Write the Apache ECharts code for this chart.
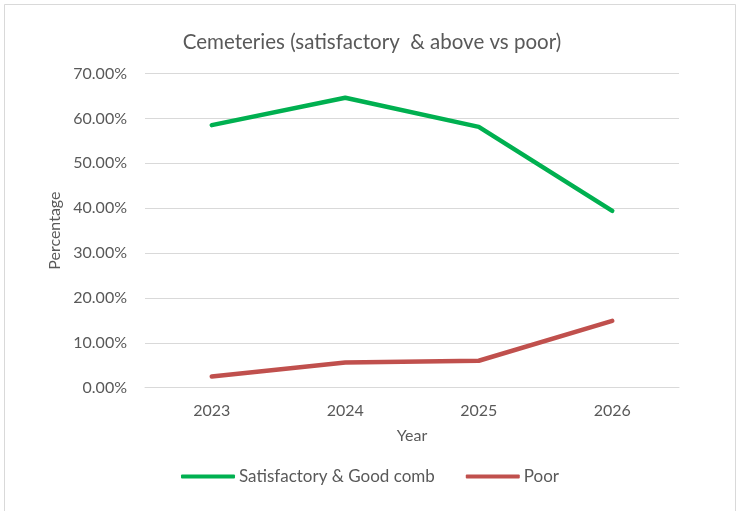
<!DOCTYPE html>
<html>
<head>
<meta charset="utf-8">
<script src="https://cdn.jsdelivr.net/npm/echarts@6/dist/echarts.min.js"></script>
<style>
  html, body { margin: 0; padding: 0; background: #fff; }
  #chart { width: 740px; height: 511px; }
</style>
</head>
<body>
<div id="chart"></div>
<script>
// Years on the category axis
const years = ['2023', '2024', '2025', '2026'];
// Share of cemeteries rated satisfactory or good (percent)
const satisfactoryGood = [58.5, 64.6, 58.1, 39.4];
// Share of cemeteries rated poor (percent)
const poor = [2.5, 5.6, 6.0, 14.9];

const textColor = '#595959';
const fontFamily = 'Lato, "Open Sans", sans-serif';

const chart = echarts.init(document.getElementById('chart'), null, { renderer: 'canvas' });
chart.setOption({
  backgroundColor: '#ffffff',
  animation: false,
  textStyle: { fontFamily: fontFamily, color: textColor },
  graphic: [{
    type: 'rect',
    shape: { x: 4.5, y: 4.5, width: 731, height: 530 },
    style: { fill: 'none', stroke: '#d9d9d9', lineWidth: 1 },
    silent: true
  }],
  title: {
    text: 'Cemeteries (satisfactory  & above vs poor)',
    left: 367,
    textAlign: 'center',
    top: 27,
    textStyle: { fontFamily: fontFamily, fontSize: 20.5, fontWeight: 'normal', color: textColor }
  },
  legend: {
    bottom: 21,
    left: 'center',
    itemWidth: 54,
    itemHeight: 4,
    itemGap: 31,
    icon: 'roundRect',
    textStyle: { fontFamily: fontFamily, fontSize: 17, color: textColor, padding: [0, 0, 0, -1] },
    data: ['Satisfactory & Good comb', 'Poor']
  },
  grid: { left: 145, right: 61, top: 73.5, bottom: 123.3, containLabel: false },
  xAxis: {
    type: 'category',
    data: years,
    boundaryGap: true,
    name: 'Year',
    nameLocation: 'middle',
    nameGap: 40,
    nameTextStyle: { fontFamily: fontFamily, fontSize: 16, color: textColor },
    axisLine: { show: true, lineStyle: { color: '#d9d9d9', width: 1 } },
    axisTick: { show: false },
    axisLabel: { margin: 15, fontSize: 16, color: textColor, fontFamily: fontFamily }
  },
  yAxis: {
    type: 'value',
    min: 0,
    max: 70,
    interval: 10,
    name: 'Percentage',
    nameLocation: 'middle',
    nameGap: 82,
    nameRotate: 90,
    nameTextStyle: { fontFamily: fontFamily, fontSize: 16, color: textColor },
    axisLine: { show: false },
    axisTick: { show: false },
    axisLabel: {
      margin: 18,
      fontSize: 16,
      color: textColor,
      fontFamily: fontFamily,
      formatter: v => v.toFixed(2) + '%'
    },
    splitLine: { lineStyle: { color: '#d9d9d9', width: 1 } }
  },
  series: [
    {
      name: 'Satisfactory & Good comb',
      type: 'line',
      data: satisfactoryGood,
      symbol: 'none',
      color: '#00b050',
      lineStyle: { color: '#00b050', width: 4.5, cap: 'round', join: 'round' }
    },
    {
      name: 'Poor',
      type: 'line',
      data: poor,
      symbol: 'none',
      color: '#c0504d',
      lineStyle: { color: '#c0504d', width: 4.5, cap: 'round', join: 'round' }
    }
  ]
});
</script>
</body>
</html>
